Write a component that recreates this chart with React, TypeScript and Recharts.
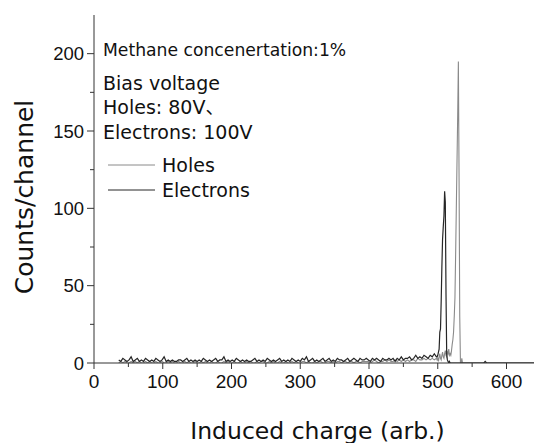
import React from "react";
import { LineChart, Line, XAxis, YAxis } from "recharts";

// ---- data ----
const noiseStartChannel = 36;
const noiseStep = 3;

const electronsNoise = [
  2, 1, 3, 2, 1, 2, 4, 1, 2, 3,
  1, 2, 1, 3, 2, 1, 2, 1, 3, 2,
  1, 2, 4, 1, 2, 1, 2, 1, 1, 2,
  2, 1, 2, 3, 1, 2, 1, 2, 1, 2,
  1, 3, 2, 1, 2, 1, 2, 3, 1, 2,
  2, 4, 1, 2, 1, 2, 1, 3, 2, 1,
  2, 1, 2, 1, 1, 2, 3, 1, 2, 1,
  2, 1, 3, 2, 1, 2, 1, 2, 3, 1,
  2, 1, 2, 1, 3, 2, 1, 2, 1, 3,
  2, 4, 1, 2, 3, 1, 2, 1, 2, 3,
  1, 2, 3, 1, 2, 1, 3, 2, 2, 1,
  2, 3, 1, 2, 3, 2, 1, 3, 2, 2,
  3, 2, 1, 3, 2, 3, 2, 1, 3, 2,
  2, 3, 2, 3, 1, 3, 2, 4, 2, 3,
  3, 4, 2, 3, 5, 3, 4, 3, 5, 4,
  3, 5, 4, 6, 4,
];

const holesNoise = [
  0, 1, 0, 1, 0, 0, 1, 0, 1, 0,
  1, 0, 0, 1, 0, 1, 0, 0, 1, 0,
  0, 1, 0, 0, 1, 0, 1, 0, 0, 1,
  0, 0, 1, 0, 1, 0, 0, 1, 0, 0,
  1, 0, 1, 0, 0, 1, 0, 0, 1, 0,
  0, 1, 0, 1, 0, 0, 1, 0, 0, 1,
  0, 0, 1, 0, 1, 0, 0, 1, 0, 1,
  1, 0, 0, 1, 0, 1, 0, 0, 1, 0,
  0, 1, 0, 0, 1, 0, 1, 0, 0, 1,
  1, 0, 1, 0, 0, 1, 0, 1, 1, 0,
  0, 1, 1, 0, 1, 0, 1, 1, 0, 1,
  1, 0, 1, 1, 0, 1, 1, 0, 1, 1,
  1, 1, 0, 1, 2, 1, 0, 1, 1, 2,
  1, 2, 1, 1, 2, 1, 2, 1, 2, 1,
  2, 1, 2, 2, 1, 3, 2, 2, 3, 2,
  3, 2, 3, 2, 3,
];

const peakChannels = [
  499, 500, 501, 502, 503, 504, 505, 506, 507, 508,
  509, 510, 511, 512, 513, 514, 515, 516, 517, 518,
  519, 520, 521, 522, 523, 524, 525, 526, 527, 528,
  529, 530, 531, 532, 533, 534, 535, 536, 537, 538,
  539, 540,
];
const electronsPeak = [
  4, 5, 7, 9, 20, 22, 40, 62, 80, 88,
  95, 111, 104, 45, 6, 2, 1, 0, 1, 0,
  0, 0, 0, 0, 0, 0, 0, 0, 0, 0,
  0, 0, 0, 0, 0, 0, 0, 0, 0, 0,
  0, 0,
];
const holesPeak = [
  2, 3, 1, 4, 6, 3, 2, 5, 7, 4,
  3, 6, 8, 5, 4, 7, 6, 9, 5, 6,
  5, 8, 12, 15, 20, 30, 42, 70, 100, 130,
  160, 195, 120, 30, 0, 0, 3, 0, 0, 0,
  0, 0,
];

const tailChannels = [545, 560, 567, 569, 571, 600, 640];
const electronsTail = [0, 0, 0, 1, 0, 0, 0];
const holesTail = [0, 0, 0, 0, 0, 0, 0];

const xTicks = [0, 50, 100, 150, 200, 250, 300, 350, 400, 450, 500, 550, 600];
const yTicks = [0, 25, 50, 75, 100, 125, 150, 175, 200];

const seriesNames = ["Holes", "Electrons"];
const seriesColors = ["#8a8a8a", "#262626"];

const annotationLines = ["Bias voltage", "Holes: 80V、", "Electrons: 100V"];
const titleLine = "Methane concenertation:1%";

// ---- table ----
type Row = { ch: number; holes: number; electrons: number };
const rows: Row[] = [];
electronsNoise.forEach((e, i) =>
  rows.push({ ch: noiseStartChannel + i * noiseStep, electrons: e, holes: holesNoise[i] })
);
peakChannels.forEach((c, i) =>
  rows.push({ ch: c, electrons: electronsPeak[i], holes: holesPeak[i] })
);
tailChannels.forEach((c, i) =>
  rows.push({ ch: c, electrons: electronsTail[i], holes: holesTail[i] })
);

const TEXT_FONT = "'DejaVu Sans', 'Noto Sans CJK JP', sans-serif";
const TICK_FONT = "'Liberation Sans', Arial, sans-serif";
const AXIS_COLOR = "#333";

const XTick = (props: any) => {
  const { x, y, payload } = props;
  const major = payload.value % 100 === 0;
  return (
    <g>
      <line x1={x} x2={x} y1={y} y2={y + (major ? 6 : 4)} stroke={AXIS_COLOR} strokeWidth={1} />
      {major && (
        <text x={x} y={y + 25} textAnchor="middle" fontFamily={TICK_FONT} fontSize={19} fill="#111">
          {payload.value}
        </text>
      )}
    </g>
  );
};

const YTick = (props: any) => {
  const { x, y, payload } = props;
  const major = payload.value % 50 === 0;
  return (
    <g>
      <line x1={x} x2={x - (major ? 7 : 4)} y1={y} y2={y} stroke={AXIS_COLOR} strokeWidth={1} />
      {major && (
        <text x={x - 10} y={y + 6.5} textAnchor="end" fontFamily={TICK_FONT} fontSize={18.5} fill="#111">
          {payload.value}
        </text>
      )}
    </g>
  );
};

export default function App() {
  return (
    <div style={{ position: "absolute", left: 0, top: 0, width: 534, height: 443, background: "#fff" }}>
      <LineChart width={534} height={443} data={rows} margin={{ top: 15, right: 0, bottom: 0, left: 0 }}>
        <XAxis
          dataKey="ch"
          type="number"
          domain={[0, 640]}
          ticks={xTicks}
          interval={0}
          height={80}
          tickSize={0}
          tickMargin={0}
          tickLine={false}
          tick={<XTick />}
          stroke={AXIS_COLOR}
          allowDataOverflow
        />
        <YAxis
          type="number"
          domain={[0, 225]}
          ticks={yTicks}
          interval={0}
          width={94}
          tickSize={0}
          tickMargin={0}
          tickLine={false}
          tick={<YTick />}
          stroke={AXIS_COLOR}
          allowDataOverflow
        />
        <Line
          dataKey="holes"
          name={seriesNames[0]}
          stroke={seriesColors[0]}
          strokeWidth={1.1}
          dot={false}
          type="linear"
          isAnimationActive={false}
        />
        <Line
          dataKey="electrons"
          name={seriesNames[1]}
          stroke={seriesColors[1]}
          strokeWidth={1.2}
          dot={false}
          type="linear"
          isAnimationActive={false}
        />
        <text x={103} y={56} fontFamily={TEXT_FONT} fontSize={17.2} fill="#111">
          {titleLine}
        </text>
        {annotationLines.map((t, i) => (
          <text key={t} x={103} y={89.5 + i * 24.5} fontFamily={TEXT_FONT} fontSize={19} fill="#111">
            {t}
          </text>
        ))}
        {seriesNames.map((n, i) => (
          <g key={n}>
            <line x1={108} x2={155} y1={165 + i * 25} y2={165 + i * 25} stroke={seriesColors[i]} strokeWidth={1} />
            <text x={162} y={171.5 + i * 25} fontFamily={TEXT_FONT} fontSize={19} fill="#111">
              {n}
            </text>
          </g>
        ))}
        <text x={317.5} y={438.5} textAnchor="middle" fontFamily={TEXT_FONT} fontSize={23.5} fill="#111">
          Induced charge (arb.)
        </text>
        <text
          x={33}
          y={197}
          textAnchor="middle"
          transform="rotate(-90, 33, 197)"
          fontFamily={TEXT_FONT}
          fontSize={25}
          fill="#111"
        >
          Counts/channel
        </text>
      </LineChart>
    </div>
  );
}
